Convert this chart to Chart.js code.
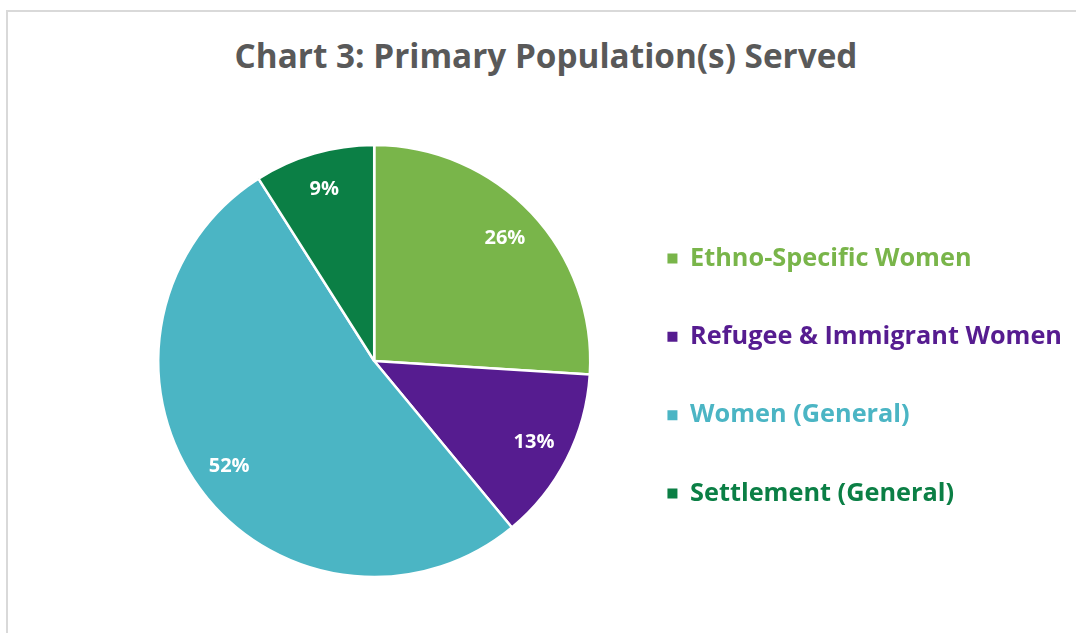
<!DOCTYPE html>
<html>
<head>
<meta charset="utf-8">
<script src="https://cdn.jsdelivr.net/npm/chart.js@4.4.1/dist/chart.umd.min.js"></script>
<style>
  html, body { margin: 0; padding: 0; background: #fff; overflow: hidden; }
  .frame {
    position: absolute; left: 6px; top: 10px; width: 1200px; height: 700px;
    border-top: 2px solid #d9d9d9; border-left: 2px solid #d9d9d9;
  }
  .chart-title {
    position: absolute; left: 0; top: 35px; width: 1092px; margin: 0;
    text-align: center; font-family: "Open Sans", sans-serif; font-weight: bold;
    font-size: 33.3px; line-height: 40px; color: #595959;
  }
  #pieChart { position: absolute; left: 9px; top: 12px; }
</style>
</head>
<body>
<div class="frame"></div>
<h1 class="chart-title">Chart 3: Primary Population(s) Served</h1>
<canvas id="pieChart" width="1067" height="621"></canvas>
<script>
// Data
const categories = ['Ethno-Specific Women', 'Refugee & Immigrant Women', 'Women (General)', 'Settlement (General)'];
const shares = [26, 13, 52, 9];
const sliceColors = ['#79b54a', '#561c90', '#4bb5c4', '#0b7f45'];

// percentage labels inside the slices
const pctLabels = {
    id: 'pctLabels',
    afterDatasetsDraw(chart) {
        const ctx = chart.ctx;
        const meta = chart.getDatasetMeta(0);
        ctx.save();
        ctx.font = 'bold 20px "Open Sans"';
        ctx.fillStyle = '#ffffff';
        ctx.textAlign = 'center';
        ctx.textBaseline = 'middle';
        meta.data.forEach((arc, i) => {
            const p = arc.getProps(['x', 'y', 'startAngle', 'endAngle', 'outerRadius'], true);
            const mid = (p.startAngle + p.endAngle) / 2;
            const r = p.outerRadius * 0.83;
            ctx.fillText(shares[i] + '%', p.x + Math.cos(mid) * r, p.y + Math.sin(mid) * r);
        });
        ctx.restore();
    }
};

const ctx = document.getElementById('pieChart').getContext('2d');
const pieChart = new Chart(ctx, {
    type: 'pie',
    data: {
        labels: categories,
        datasets: [{
            data: shares,
            backgroundColor: sliceColors,
            borderColor: '#ffffff',
            borderWidth: 2.5,
            hoverOffset: 0
        }]
    },
    options: {
        responsive: false,
        animation: false,
        radius: 216,
        layout: { padding: { left: 125, right: 4, top: 77, bottom: 0 } },
        plugins: {
            tooltip: { enabled: false },
            legend: {
                position: 'right',
                fullSize: false,
                title: { display: true, text: ' ', font: { size: 12 }, padding: { top: 0, bottom: 15.6 } },
                labels: {
                    boxWidth: 10,
                    boxHeight: 10,
                    padding: 53,
                    font: { family: '"Open Sans"', size: 25.3, weight: 'bold' },
                    generateLabels(chart) {
                        return categories.map((c, i) => ({
                            text: c,
                            fillStyle: sliceColors[i],
                            strokeStyle: sliceColors[i],
                            fontColor: sliceColors[i],
                            lineWidth: 0,
                            index: i
                        }));
                    }
                }
            }
        }
    },
    plugins: [pctLabels]
});
</script>
</body>
</html>
